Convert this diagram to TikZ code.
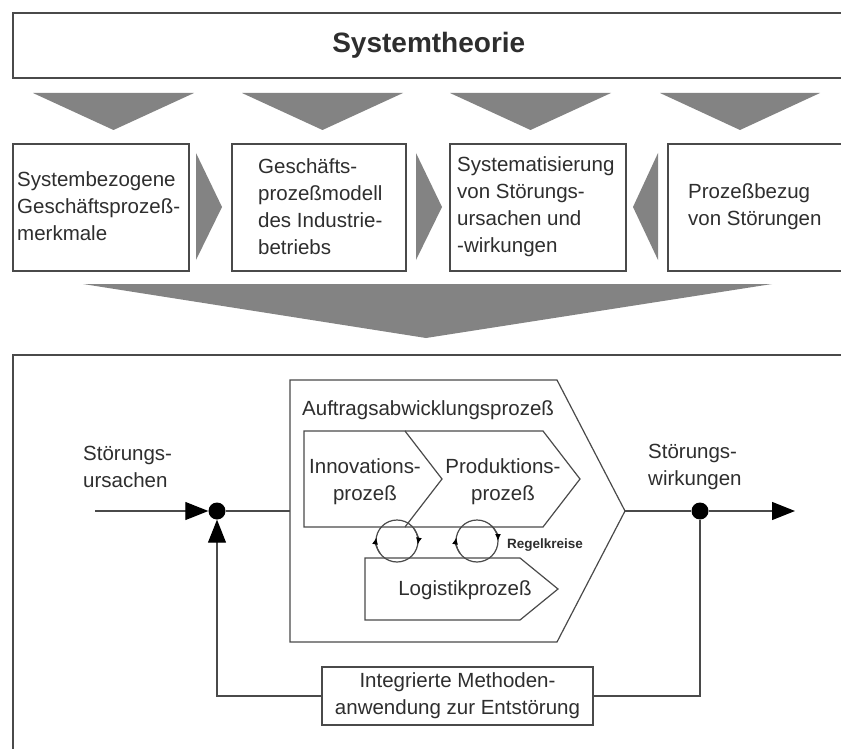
\documentclass[tikz,border=0pt]{standalone}
\usepackage{fontspec}
\setmainfont{Liberation Sans}
\usetikzlibrary{arrows.meta}
\definecolor{txt}{HTML}{2E2E2E}
\definecolor{ln}{HTML}{4A4A4A}
\definecolor{tri}{HTML}{838383}
\begin{document}
\begin{tikzpicture}[x=1pt,y=-1pt,
  box/.style={draw=ln,line width=1.6pt,inner sep=0pt},
  lbl/.style={text=txt,font=\fontsize{20.5}{27}\selectfont,inner sep=0pt},
  wedge/.style={fill=tri,draw=none},
  link/.style={draw=ln,line width=1.3pt},
  proc/.style={draw=ln,line width=1.2pt,line join=miter},
  bigtip/.style={-{Triangle[length=23pt,width=18pt,color=black]}},
  looptip/.style={-{Latex[length=7pt,width=6pt,color=black]}},
  dot/.style={circle,fill=black,minimum size=17pt,inner sep=0pt}]
\clip (0,0) rectangle (841,749);
\fill[white] (0,0) rectangle (841,749);

% heading bar
\node[box,anchor=north west,minimum width=832pt,minimum height=65pt,
      text=txt,font=\bfseries\fontsize{28}{32}\selectfont] (sys) at (12,12) {Systemtheorie};

% downward wedges under the heading
\fill[wedge] (33,93) -- (194,93) -- (113.5,130) -- cycle;
\fill[wedge] (242,93) -- (403,93) -- (322.5,130) -- cycle;
\fill[wedge] (450,93) -- (611,93) -- (530.5,130) -- cycle;
\fill[wedge] (660,93) -- (820,93) -- (740,130) -- cycle;

% row of four boxes
\node[box,anchor=north west,minimum width=176pt,minimum height=127pt] (b1) at (12,143) {};
\node[box,anchor=north west,minimum width=174pt,minimum height=127pt] (b2) at (231,143) {};
\node[box,anchor=north west,minimum width=176pt,minimum height=127pt] (b3) at (449,143) {};
\node[box,anchor=north west,minimum width=200pt,minimum height=127pt] (b4) at (667,143) {};
\node[lbl,anchor=west,align=left] (t1) at (17,206.5) {Systembezogene\\Geschäftsprozeß-\\merkmale};
\node[lbl,anchor=west,align=left] (t2) at (258,206.5) {Geschäfts-\\prozeßmodell\\des Industrie-\\betriebs};
\node[lbl,anchor=west,align=left] (t3) at (457,206.5) {Systematisierung\\von Störungs-\\ursachen und\\-wirkungen};
\node[lbl,anchor=west,align=left] (t4) at (688,206.5) {Prozeßbezug\\von Störungen};

% side wedges between the boxes
\fill[wedge] (196,153) -- (222,207) -- (196,260) -- cycle;
\fill[wedge] (416,153) -- (442,207) -- (416,260) -- cycle;
\fill[wedge] (658,153) -- (633,207) -- (658,260) -- cycle;

% large funnel wedge
\fill[wedge] (83,284) -- (772,284) -- (426,338) -- cycle;

% lower frame
\draw[box] (13,760) -- (13,355) -- (850,355);

% order processing
\draw[proc] (290,380) -- (557,380) -- (625,511) -- (557,642) -- (290,642) -- cycle;
\coordinate (aplft) at (290,511);
\coordinate (aptip) at (625,511);
\node[lbl,anchor=west] (aptext) at (302,410) {Auftragsabwicklungsprozeß};

% innovation, production and logistics chevrons
\draw[proc] (304,431) -- (405,431) -- (442,479) -- (405,527) -- (304,527) -- cycle;
\draw[proc] (405,431) -- (543,431) -- (580,479) -- (543,527) -- (405,527);
\draw[proc] (365,558) -- (520,558) -- (558,589) -- (520,620) -- (365,620) -- cycle;
\node[lbl,align=center] (inno) at (365,482) {Innovations-\\prozeß};
\node[lbl,align=center] (prod) at (503,482) {Produktions-\\prozeß};
\node[lbl] (logi) at (465,590) {Logistikprozeß};

% control loops
\coordinate (c1) at (397,541);
\coordinate (c2) at (477,541);
\draw[proc] (c1) circle[radius=21];
\draw[proc] (c2) circle[radius=21];
\draw[proc,looptip] (c1) ++(-35:21) arc[start angle=-35,end angle=10,radius=21];
\draw[proc,looptip] (c1) ++(145:21) arc[start angle=145,end angle=190,radius=21];
\draw[proc,looptip] (c2) ++(-45:21) arc[start angle=-45,end angle=0,radius=21];
\draw[proc,looptip] (c2) ++(145:21) arc[start angle=145,end angle=190,radius=21];
\node[text=txt,font=\bfseries\fontsize{13.5}{16}\selectfont,inner sep=0pt,anchor=west] (loops) at (507,545) {Regelkreise};

% disturbance inputs and outputs
\node[lbl,anchor=west,align=left] (cause) at (83,467) {Störungs-\\ursachen};
\node[lbl,anchor=west,align=left] (effect) at (648,467) {Störungs-\\wirkungen};
\coordinate (in) at (95,511);
\coordinate (out) at (795,511);
\node[dot] (sum) at (217,511) {};
\node[dot] (branch) at (700,511) {};

% feedback method box
\node[box,minimum width=271pt,minimum height=58pt,lbl,align=center] (fb) at (457.5,696)
  {Integrierte Methoden-\\anwendung zur Entstörung};

% connectors
\draw[link,bigtip] (in) -- (sum);
\draw[link] (sum) -- (aplft);
\draw[link] (aptip) -- (branch);
\draw[link,bigtip] (branch) -- (out);
\draw[link] (branch) |- (fb);
\draw[link,bigtip] (fb) -| (sum);
\end{tikzpicture}
\end{document}
